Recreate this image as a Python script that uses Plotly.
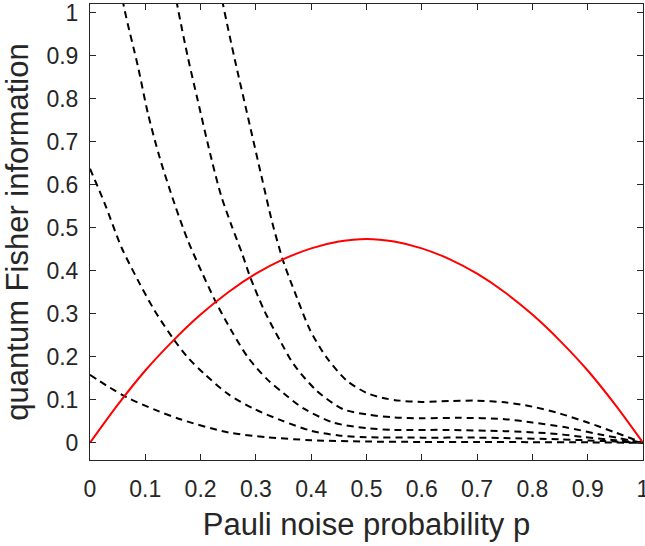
import plotly.graph_objects as go

# Red curve (solid)
p_red = [0, 0.05, 0.1, 0.15, 0.2, 0.25, 0.3, 0.35, 0.4, 0.45, 0.5,
         0.55, 0.6, 0.65, 0.7, 0.75, 0.8, 0.85, 0.9, 0.95, 1.0]
q_red = [0, 0.088, 0.168, 0.237, 0.298, 0.350, 0.393, 0.427, 0.452, 0.468, 0.474,
         0.468, 0.452, 0.427, 0.393, 0.350, 0.298, 0.237, 0.168, 0.088, 0]

# Dashed curves (lowest to highest)
p_a = [0, 0.03, 0.066, 0.117, 0.165, 0.25, 0.32, 0.4, 0.5, 0.6, 0.7, 0.8, 0.9, 1.0]
q_a = [0.158, 0.133, 0.106, 0.077, 0.054, 0.024, 0.013, 0.006, 0.003, 0.002, 0.002, 0.0015, 0.001, 0.0]

p_b = [0, 0.027, 0.057, 0.087, 0.117, 0.15, 0.177, 0.207, 0.25, 0.298, 0.346, 0.4, 0.45,
       0.5, 0.6, 0.7, 0.75, 0.85, 0.93, 1.0]
q_b = [0.637, 0.555, 0.454, 0.377, 0.307, 0.243, 0.198, 0.160, 0.113, 0.078, 0.052, 0.028, 0.017,
       0.013, 0.012, 0.012, 0.011, 0.008, 0.004, 0.0]

p_c = [0.03, 0.061, 0.087, 0.105, 0.126, 0.153, 0.177, 0.201, 0.228, 0.256, 0.286, 0.32, 0.35,
       0.386, 0.44, 0.5, 0.55, 0.64, 0.75, 0.83, 0.89, 0.95, 1.0]
q_c = [1.25, 1.016, 0.873, 0.764, 0.663, 0.555, 0.470, 0.400, 0.326, 0.260, 0.198, 0.148, 0.115,
       0.080, 0.047, 0.034, 0.030, 0.030, 0.027, 0.022, 0.014, 0.006, 0.0]

p_d = [0.13, 0.158, 0.177, 0.195, 0.219, 0.237, 0.256, 0.275, 0.29, 0.316, 0.346, 0.368, 0.41,
       0.458, 0.5, 0.55, 0.6, 0.67, 0.75, 0.8, 0.86, 0.92, 1.0]
q_d = [1.22, 1.016, 0.896, 0.795, 0.663, 0.575, 0.505, 0.440, 0.384, 0.305, 0.232, 0.183, 0.121,
       0.078, 0.066, 0.059, 0.057, 0.058, 0.055, 0.047, 0.036, 0.020, 0.0]

p_e = [0.21, 0.241, 0.262, 0.286, 0.31, 0.33, 0.35, 0.374, 0.398, 0.428, 0.464, 0.5, 0.53,
       0.56, 0.6, 0.65, 0.7, 0.75, 0.8, 0.85, 0.9, 0.95, 1.0]
q_e = [1.22, 1.016, 0.890, 0.755, 0.620, 0.510, 0.420, 0.338, 0.262, 0.198, 0.145, 0.116, 0.104,
       0.098, 0.095, 0.097, 0.098, 0.094, 0.084, 0.068, 0.047, 0.024, 0.0]

x_ticks = [0, 0.1, 0.2, 0.3, 0.4, 0.5, 0.6, 0.7, 0.8, 0.9, 1]
x_labels = ["0", "0.1", "0.2", "0.3", "0.4", "0.5", "0.6", "0.7", "0.8", "0.9", "1"]
y_ticks = [0, 0.1, 0.2, 0.3, 0.4, 0.5, 0.6, 0.7, 0.8, 0.9, 1]
y_labels = ["0", "0.1", "0.2", "0.3", "0.4", "0.5", "0.6", "0.7", "0.8", "0.9", "1"]

fig = go.Figure()
for px_, qy in [(p_a, q_a), (p_b, q_b), (p_c, q_c), (p_d, q_d), (p_e, q_e)]:
    fig.add_trace(go.Scatter(x=px_, y=qy, mode="lines",
                             line=dict(color="black", width=2, dash="7px,5px", shape="spline", smoothing=0.8),
                             showlegend=False, hoverinfo="skip"))
fig.add_trace(go.Scatter(x=p_red, y=q_red, mode="lines",
                         line=dict(color="#ff0000", width=2, shape="spline", smoothing=0.8),
                         showlegend=False, hoverinfo="skip"))

font_family = "Liberation Sans, Arial, Helvetica, sans-serif"
axis_common = dict(
    showgrid=False, zeroline=False, showline=True, linecolor="#262626", linewidth=1,
    mirror="ticks", ticks="inside", ticklen=6, tickcolor="#262626", tickwidth=1,
    tickfont=dict(family=font_family, size=23, color="#262626"),
    ticklabeloverflow="allow", automargin=False,
)
fig.update_xaxes(range=[0, 1], tickvals=x_ticks, ticktext=x_labels,
                 title=dict(text="Pauli noise probability p",
                            font=dict(family=font_family, size=31, color="#262626"), standoff=12),
                 ticklabelstandoff=8, **axis_common)
fig.update_yaxes(range=[-0.04, 1.02], tickvals=y_ticks, ticktext=y_labels,
                 title=dict(text="quantum Fisher information",
                            font=dict(family=font_family, size=31, color="#262626"), standoff=10),
                 ticklabelstandoff=6, **axis_common)
fig.update_layout(
    width=645, height=546,
    margin=dict(l=90, r=2, t=4, b=86),
    paper_bgcolor="white", plot_bgcolor="white",
)
fig.write_html("out.html",
               config={"displayModeBar": False, "responsive": False},
               default_width="645px", default_height="546px",
               post_script="document.body.style.margin='0';document.body.style.overflow='hidden';")
